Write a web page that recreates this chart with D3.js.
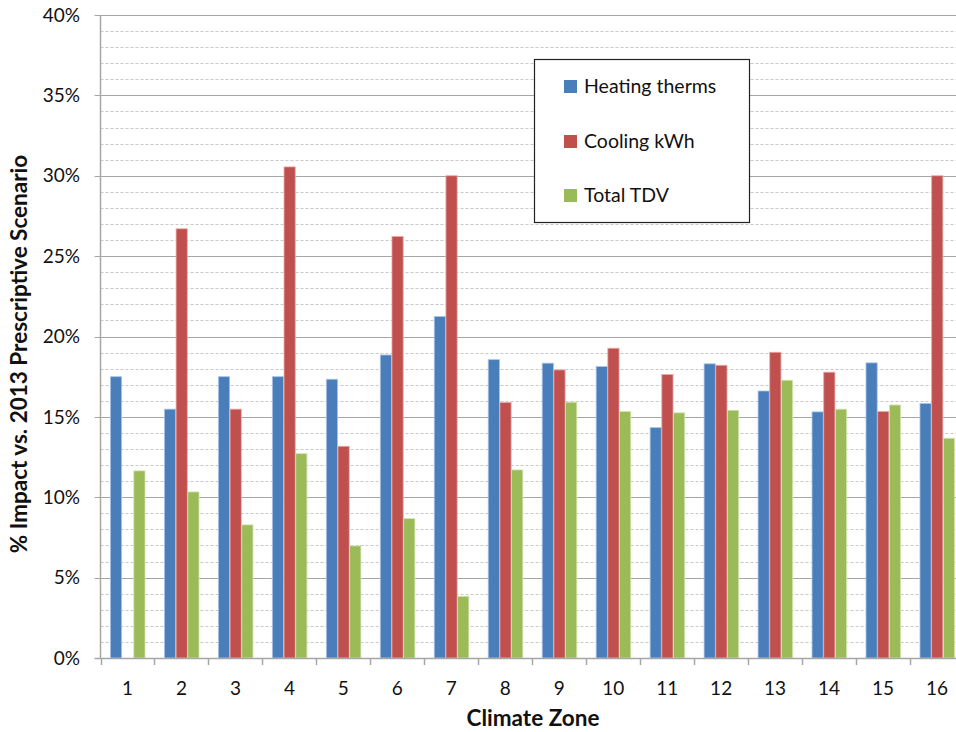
<!DOCTYPE html>
<html><head><meta charset="utf-8">
<script src="https://cdn.jsdelivr.net/npm/d3@7"></script>
<style>body{margin:0;background:#fff;overflow:hidden}svg{display:block;font-family:Lato,"Open Sans",sans-serif}</style>
</head><body><svg id="c" width="956" height="732"></svg>
<script>
const zones = ["1","2","3","4","5","6","7","8","9","10","11","12","13","14","15","16"];
const seriesNames = ["Heating therms","Cooling kWh","Total TDV"];
const heating = [17.5,15.48,17.5,17.5,17.34,18.85,21.24,18.56,18.34,18.13,14.33,18.3,16.61,15.31,18.36,15.83];
const cooling = [0,26.7,15.48,30.55,13.17,26.22,30.0,15.89,17.92,19.27,17.63,18.21,19.02,17.78,15.33,30.0];
const tdv = [11.64,10.33,8.28,12.71,6.97,8.67,3.84,11.7,15.91,15.33,15.25,15.41,17.28,15.48,15.74,13.67];
const yTicks = [0,5,10,15,20,25,30,35,40];
const colors = ["#4a7ebb","#c0504d","#9bbb59"];
const strokes = ["#a9c3e6","#e6a8a6","#d2e4ae"];

(function(){
const svg = d3.select("#c");
const pLeft = 100.5, pRight = 964, pTop = 15, pBottom = 658;
const x = d3.scaleBand().domain(zones).range([pLeft, pRight]).paddingInner(0.35).paddingOuter(0.175);
const xEdges = d3.scaleBand().domain(zones).range([pLeft, pRight]);
const y = d3.scaleLinear().domain([0,40]).range([pBottom, pTop]);
const xs = d3.scaleBand().domain(seriesNames).range([0, x.bandwidth()]);

// minor gridlines
const minor = d3.range(1,40).filter(v => v % 5 !== 0);
svg.append("g").selectAll("line").data(minor).join("line")
  .attr("x1", pLeft).attr("x2", 956)
  .attr("y1", d => Math.round(y(d))+0.5).attr("y2", d => Math.round(y(d))+0.5)
  .attr("stroke", "#c8c8c8").attr("stroke-width", 1).attr("stroke-dasharray", "3,2");
// major gridlines
svg.append("g").selectAll("line").data(yTicks.filter(v=>v>0)).join("line")
  .attr("x1", pLeft-6).attr("x2", 956)
  .attr("y1", d => Math.round(y(d))+0.5).attr("y2", d => Math.round(y(d))+0.5)
  .attr("stroke", "#a6a6a6").attr("stroke-width", 1.2);

// bars
const data = zones.map((z,i) => ({z, vals:[heating[i], cooling[i], tdv[i]]}));
const g = svg.append("g").selectAll("g").data(data).join("g")
  .attr("transform", d => `translate(${x(d.z)},0)`);
g.selectAll("rect").data(d => d.vals.map((v,k)=>({v,k})).filter(e => e.v > 0)).join("rect")
  .attr("x", d => xs(seriesNames[d.k]) + 0.5)
  .attr("width", xs.bandwidth() - 0.5)
  .attr("y", d => y(d.v))
  .attr("height", d => pBottom - y(d.v))
  .attr("fill", d => colors[d.k])
  .attr("stroke", d => strokes[d.k]).attr("stroke-width", 0.8);

// axes
svg.append("line").attr("x1", pLeft).attr("x2", pLeft).attr("y1", pTop).attr("y2", pBottom)
  .attr("stroke", "#a6a6a6").attr("stroke-width", 1.5);
svg.append("line").attr("x1", pLeft-6).attr("x2", 956).attr("y1", pBottom+0.5).attr("y2", pBottom+0.5)
  .attr("stroke", "#a6a6a6").attr("stroke-width", 1.5);
svg.append("g").selectAll("line").data(zones).join("line")
  .attr("x1", d => Math.round(xEdges(d))+0.5).attr("x2", d => Math.round(xEdges(d))+0.5)
  .attr("y1", pBottom).attr("y2", pBottom+7).attr("stroke", "#a6a6a6").attr("stroke-width", 1.5);

// y tick labels
svg.append("g").selectAll("text").data(yTicks).join("text")
  .attr("x", 80).attr("y", d => y(d)).attr("dy", "0.35em")
  .attr("text-anchor", "end").attr("font-size", 19).attr("fill", "#111")
  .text(d => d + "%");
// x tick labels
svg.append("g").selectAll("text").data(zones).join("text")
  .attr("x", d => xEdges(d) + xEdges.bandwidth()/2).attr("y", 695)
  .attr("text-anchor", "middle").attr("font-size", 19).attr("fill", "#111")
  .text(d => d);

// axis titles
svg.append("text").attr("x", 533).attr("y", 726).attr("text-anchor", "middle")
  .attr("font-size", 22.5).attr("font-weight", "bold").attr("fill", "#111").text("Climate Zone");
svg.append("text").attr("transform", "translate(27,354) rotate(-90)").attr("text-anchor", "middle")
  .attr("font-size", 22.5).attr("font-weight", "bold").attr("fill", "#111")
  .text("% Impact vs. 2013 Prescriptive Scenario");

// legend
const lg = svg.append("g");
lg.append("rect").attr("x", 534.5).attr("y", 59.5).attr("width", 215).attr("height", 163)
  .attr("fill", "#fff").attr("stroke", "#222").attr("stroke-width", 1.2);
const rows = [86.5, 141.5, 195.5];
seriesNames.forEach((s,i) => {
  lg.append("rect").attr("x", 564).attr("y", rows[i]-6.5).attr("width", 13).attr("height", 13).attr("fill", colors[i]);
  lg.append("text").attr("x", 584).attr("y", rows[i]).attr("dy", "0.35em")
    .attr("font-size", 19.5).attr("fill", "#111").text(s);
});
})();
</script></body></html>
